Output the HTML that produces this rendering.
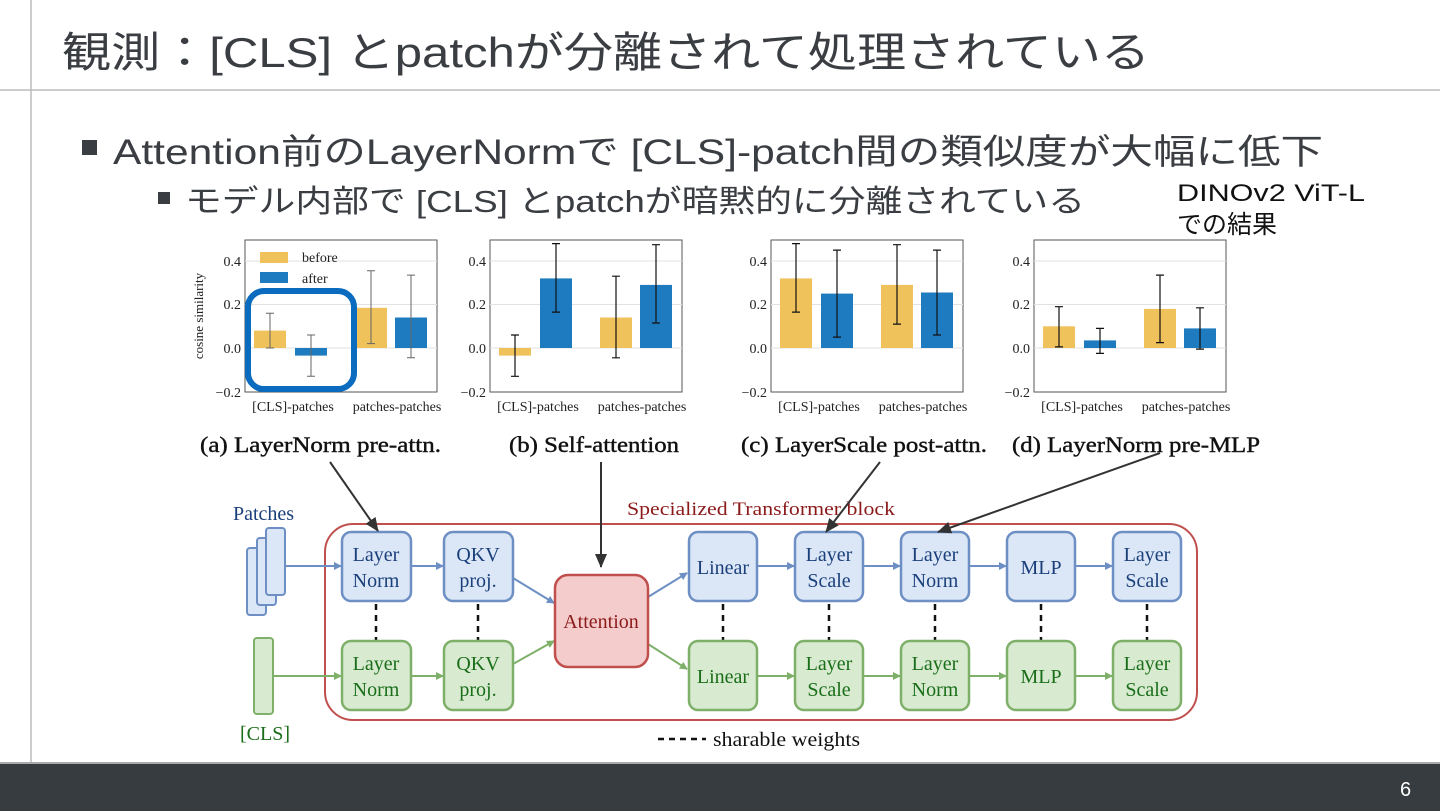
<!DOCTYPE html>
<html><head><meta charset="utf-8"><style>
html,body{margin:0;padding:0;background:#fff;}
svg{display:block;}
.jp{font-family:"Liberation Sans","Noto Sans CJK JP",sans-serif;fill:#3a3d42;}
.sf{font-family:"Liberation Serif","DejaVu Serif",serif;}
</style></head><body>
<svg width="1440" height="811" viewBox="0 0 1440 811" xmlns="http://www.w3.org/2000/svg">
<defs>
<marker id="ab" markerWidth="8" markerHeight="8" refX="7" refY="4" orient="auto" markerUnits="userSpaceOnUse"><path d="M0,0 L8,4 L0,8 z" fill="#6d8fc4"/></marker>
<marker id="ag" markerWidth="8" markerHeight="8" refX="7" refY="4" orient="auto" markerUnits="userSpaceOnUse"><path d="M0,0 L8,4 L0,8 z" fill="#7fb06a"/></marker>
<marker id="ak" markerWidth="14" markerHeight="14" refX="13" refY="7" orient="auto" markerUnits="userSpaceOnUse"><path d="M0,1 L14,7 L0,13 z" fill="#333"/></marker>
</defs>
<rect width="1440" height="811" fill="#fff"/>
<line x1="31" y1="0" x2="31" y2="763" stroke="#bbb" stroke-width="1.5"/>
<line x1="0" y1="90" x2="1440" y2="90" stroke="#bbb" stroke-width="1.5"/>
<rect x="0" y="763" width="1440" height="48" fill="#373c40"/>
<rect x="0" y="762" width="1440" height="2" fill="#aaa"/>
<text x="1400" y="796" font-family="Liberation Sans,sans-serif" font-size="20" fill="#fff">6</text>

<text class="jp" x="62" y="67" font-size="42" textLength="1088" lengthAdjust="spacingAndGlyphs">観測：[CLS] とpatchが分離されて処理されている</text>
<rect x="82" y="140" width="15" height="15" fill="#3a3d42"/>
<text class="jp" x="113" y="164" font-size="35" textLength="1210" lengthAdjust="spacingAndGlyphs">Attention前のLayerNormで [CLS]-patch間の類似度が大幅に低下</text>
<rect x="158" y="192" width="12" height="12" fill="#3a3d42"/>
<text class="jp" x="185" y="212" font-size="31" textLength="900" lengthAdjust="spacingAndGlyphs">モデル内部で [CLS] とpatchが暗黙的に分離されている</text>
<text x="1177" y="201" font-family="Liberation Sans,'Noto Sans CJK JP',sans-serif" font-size="24" fill="#111" textLength="188" lengthAdjust="spacingAndGlyphs">DINOv2 ViT-L</text>
<text x="1177" y="233" font-family="Liberation Sans,'Noto Sans CJK JP',sans-serif" font-size="25" fill="#111">での結果</text>

<g class="sf" font-size="14" fill="#222">
<rect x="245" y="240" width="192" height="152" fill="none" stroke="#555"/>
<line x1="245" y1="261" x2="437" y2="261" stroke="#e2e2e2"/><line x1="245" y1="304.5" x2="437" y2="304.5" stroke="#e2e2e2"/><line x1="245" y1="348" x2="437" y2="348" stroke="#e2e2e2"/>
<text x="241" y="266" text-anchor="end">0.4</text><text x="241" y="309" text-anchor="end">0.2</text><text x="241" y="353" text-anchor="end">0.0</text><text x="241" y="397" text-anchor="end">−0.2</text>
<rect x="254" y="330.6" width="32" height="17.4" fill="#f0c25c"/>
<rect x="295" y="348" width="32" height="7.6" fill="#1f7bbf"/>
<rect x="355" y="307.8" width="32" height="40.2" fill="#f0c25c"/>
<rect x="395" y="317.5" width="32" height="30.5" fill="#1f7bbf"/>
<g stroke="#666" stroke-width="1">
<path d="M270 348V313.2M266 313.2h8M266 348h8"/><path d="M311 376.3V335M307 376.3h8M307 335h8"/><path d="M371 343.6V270.8M367 343.6h8M367 270.8h8"/><path d="M411 357.8V275.1M407 357.8h8M407 275.1h8"/>
</g>
<rect x="260" y="252" width="28" height="11" fill="#f0c25c"/><text x="302" y="262">before</text>
<rect x="260" y="272" width="28" height="11" fill="#1f7bbf"/><text x="302" y="283">after</text>
<text x="0" y="0" transform="translate(203,316) rotate(-90)" text-anchor="middle" font-size="13">cosine similarity</text>
<text x="293" y="411" text-anchor="middle">[CLS]-patches</text><text x="397" y="411" text-anchor="middle">patches-patches</text>
<rect x="248" y="291" width="106" height="98" rx="16" fill="none" stroke="#0b6cbf" stroke-width="6"/>

<g transform="translate(245,0)">
<rect x="245" y="240" width="192" height="152" fill="none" stroke="#555"/>
<line x1="245" y1="261" x2="437" y2="261" stroke="#e2e2e2"/><line x1="245" y1="304.5" x2="437" y2="304.5" stroke="#e2e2e2"/><line x1="245" y1="348" x2="437" y2="348" stroke="#e2e2e2"/>
<text x="241" y="266" text-anchor="end">0.4</text><text x="241" y="309" text-anchor="end">0.2</text><text x="241" y="353" text-anchor="end">0.0</text><text x="241" y="397" text-anchor="end">−0.2</text>
<text x="293" y="411" text-anchor="middle">[CLS]-patches</text><text x="397" y="411" text-anchor="middle">patches-patches</text>
<rect x="254" y="348" width="32" height="7.6" fill="#f0c25c"/>
<rect x="295" y="278.4" width="32" height="69.6" fill="#1f7bbf"/>
<rect x="355" y="317.5" width="32" height="30.5" fill="#f0c25c"/>
<rect x="395" y="284.9" width="32" height="63.1" fill="#1f7bbf"/>
<g stroke="#111" stroke-width="1.2">
<path d="M270 376.3V335M266 376.3h8M266 335h8"/><path d="M311 312.1V243.6M307 312.1h8M307 243.6h8"/><path d="M371 357.8V276.2M367 357.8h8M367 276.2h8"/><path d="M411 323V244.7M407 323h8M407 244.7h8"/>
</g>
</g>

<g transform="translate(526,0)">
<rect x="245" y="240" width="192" height="152" fill="none" stroke="#555"/>
<line x1="245" y1="261" x2="437" y2="261" stroke="#e2e2e2"/><line x1="245" y1="304.5" x2="437" y2="304.5" stroke="#e2e2e2"/><line x1="245" y1="348" x2="437" y2="348" stroke="#e2e2e2"/>
<text x="241" y="266" text-anchor="end">0.4</text><text x="241" y="309" text-anchor="end">0.2</text><text x="241" y="353" text-anchor="end">0.0</text><text x="241" y="397" text-anchor="end">−0.2</text>
<text x="293" y="411" text-anchor="middle">[CLS]-patches</text><text x="397" y="411" text-anchor="middle">patches-patches</text>
<rect x="254" y="278.4" width="32" height="69.6" fill="#f0c25c"/>
<rect x="295" y="293.6" width="32" height="54.4" fill="#1f7bbf"/>
<rect x="355" y="284.9" width="32" height="63.1" fill="#f0c25c"/>
<rect x="395" y="292.5" width="32" height="55.5" fill="#1f7bbf"/>
<g stroke="#111" stroke-width="1.2">
<path d="M270 312.1V243.6M266 312.1h8M266 243.6h8"/><path d="M311 337.1V250.1M307 337.1h8M307 250.1h8"/><path d="M371 324.1V244.7M367 324.1h8M367 244.7h8"/><path d="M411 335V250.1M407 335h8M407 250.1h8"/>
</g>
</g>

<g transform="translate(789,0)">
<rect x="245" y="240" width="192" height="152" fill="none" stroke="#555"/>
<line x1="245" y1="261" x2="437" y2="261" stroke="#e2e2e2"/><line x1="245" y1="304.5" x2="437" y2="304.5" stroke="#e2e2e2"/><line x1="245" y1="348" x2="437" y2="348" stroke="#e2e2e2"/>
<text x="241" y="266" text-anchor="end">0.4</text><text x="241" y="309" text-anchor="end">0.2</text><text x="241" y="353" text-anchor="end">0.0</text><text x="241" y="397" text-anchor="end">−0.2</text>
<text x="293" y="411" text-anchor="middle">[CLS]-patches</text><text x="397" y="411" text-anchor="middle">patches-patches</text>
<rect x="254" y="326.3" width="32" height="21.7" fill="#f0c25c"/>
<rect x="295" y="340.4" width="32" height="7.6" fill="#1f7bbf"/>
<rect x="355" y="308.9" width="32" height="39.1" fill="#f0c25c"/>
<rect x="395" y="328.4" width="32" height="19.6" fill="#1f7bbf"/>
<g stroke="#111" stroke-width="1.2">
<path d="M270 346.9V306.7M266 346.9h8M266 306.7h8"/><path d="M311 353.4V328.4M307 353.4h8M307 328.4h8"/><path d="M371 342.6V275.1M367 342.6h8M367 275.1h8"/><path d="M411 349.1V307.8M407 349.1h8M407 307.8h8"/>
</g>
</g>
</g>

<g class="sf" font-size="22" fill="#111" stroke="#111" stroke-width="0.4">
<text x="200" y="452" textLength="241" lengthAdjust="spacingAndGlyphs">(a) LayerNorm pre-attn.</text>
<text x="509" y="452" textLength="170" lengthAdjust="spacingAndGlyphs">(b) Self-attention</text>
<text x="741" y="452" textLength="246" lengthAdjust="spacingAndGlyphs">(c) LayerScale post-attn.</text>
<text x="1012" y="452" textLength="248" lengthAdjust="spacingAndGlyphs">(d) LayerNorm pre-MLP</text>
</g>

<rect x="325" y="524" width="872" height="196" rx="28" fill="none" stroke="#c0504d" stroke-width="2"/>
<text class="sf" x="627" y="515" font-size="19" fill="#8b1a1a" textLength="268" lengthAdjust="spacingAndGlyphs">Specialized Transformer block</text>
<text class="sf" x="233" y="520" font-size="20" fill="#1a3f7a">Patches</text>
<text class="sf" x="240" y="740" font-size="20" fill="#1a6e1a">[CLS]</text>
<g fill="#dbe7f7" stroke="#6d8fc4" stroke-width="2">
<rect x="247" y="548" width="19" height="67" rx="3"/><rect x="257" y="538" width="19" height="67" rx="3"/><rect x="266" y="528" width="19" height="67" rx="3"/>
</g>
<rect x="254" y="638" width="19" height="76" rx="3" fill="#d8ead0" stroke="#7fb06a" stroke-width="2"/>

<g stroke="#6d8fc4" stroke-width="2" fill="none" marker-end="url(#ab)">
<line x1="286" y1="566" x2="341" y2="566"/><line x1="412" y1="566" x2="443" y2="566"/>
<line x1="513" y1="578" x2="554" y2="603"/><line x1="648" y1="597" x2="687" y2="573"/>
<line x1="758" y1="566" x2="794" y2="566"/><line x1="864" y1="566" x2="900" y2="566"/><line x1="970" y1="566" x2="1006" y2="566"/><line x1="1076" y1="566" x2="1112" y2="566"/>
</g>
<g stroke="#7fb06a" stroke-width="2" fill="none" marker-end="url(#ag)">
<line x1="274" y1="676" x2="341" y2="676"/><line x1="412" y1="676" x2="443" y2="676"/>
<line x1="513" y1="664" x2="554" y2="641"/><line x1="648" y1="644" x2="687" y2="669"/>
<line x1="758" y1="676" x2="794" y2="676"/><line x1="864" y1="676" x2="900" y2="676"/><line x1="970" y1="676" x2="1006" y2="676"/><line x1="1076" y1="676" x2="1112" y2="676"/>
</g>
<g stroke="#111" stroke-width="2.5" stroke-dasharray="6,5">
<line x1="376" y1="604" x2="376" y2="640"/><line x1="478" y1="604" x2="478" y2="640"/><line x1="723" y1="604" x2="723" y2="640"/><line x1="829" y1="604" x2="829" y2="640"/><line x1="935" y1="604" x2="935" y2="640"/><line x1="1041" y1="604" x2="1041" y2="640"/><line x1="1147" y1="604" x2="1147" y2="640"/>
<line x1="658" y1="739" x2="706" y2="739"/>
</g>
<text class="sf" x="713" y="746" font-size="20" fill="#111" textLength="147" lengthAdjust="spacingAndGlyphs">sharable weights</text>

<g fill="#dbe7f7" stroke="#6d8fc4" stroke-width="2.5">
<rect x="342" y="532" width="69" height="69" rx="9"/><rect x="444" y="532" width="69" height="69" rx="9"/><rect x="689" y="532" width="68" height="69" rx="9"/><rect x="795" y="532" width="68" height="69" rx="9"/><rect x="901" y="532" width="68" height="69" rx="9"/><rect x="1007" y="532" width="68" height="69" rx="9"/><rect x="1113" y="532" width="68" height="69" rx="9"/>
</g>
<g fill="#d8ead0" stroke="#7fb06a" stroke-width="2.5">
<rect x="342" y="641" width="69" height="69" rx="9"/><rect x="444" y="641" width="69" height="69" rx="9"/><rect x="689" y="641" width="68" height="69" rx="9"/><rect x="795" y="641" width="68" height="69" rx="9"/><rect x="901" y="641" width="68" height="69" rx="9"/><rect x="1007" y="641" width="68" height="69" rx="9"/><rect x="1113" y="641" width="68" height="69" rx="9"/>
</g>
<rect x="555" y="575" width="93" height="92" rx="13" fill="#f5cccc" stroke="#c0504d" stroke-width="2.5"/>
<text class="sf" x="601" y="628" font-size="20" fill="#8b1a1a" text-anchor="middle">Attention</text>

<g class="sf" font-size="20" fill="#1a3f7a" text-anchor="middle">
<text x="376" y="561">Layer</text><text x="376" y="587">Norm</text>
<text x="478" y="561">QKV</text><text x="478" y="587">proj.</text>
<text x="723" y="574">Linear</text>
<text x="829" y="561">Layer</text><text x="829" y="587">Scale</text>
<text x="935" y="561">Layer</text><text x="935" y="587">Norm</text>
<text x="1041" y="574">MLP</text>
<text x="1147" y="561">Layer</text><text x="1147" y="587">Scale</text>
</g>
<g class="sf" font-size="20" fill="#1a6e1a" text-anchor="middle">
<text x="376" y="670">Layer</text><text x="376" y="696">Norm</text>
<text x="478" y="670">QKV</text><text x="478" y="696">proj.</text>
<text x="723" y="683">Linear</text>
<text x="829" y="670">Layer</text><text x="829" y="696">Scale</text>
<text x="935" y="670">Layer</text><text x="935" y="696">Norm</text>
<text x="1041" y="683">MLP</text>
<text x="1147" y="670">Layer</text><text x="1147" y="696">Scale</text>
</g>

<g stroke="#333" stroke-width="2" marker-end="url(#ak)">
<line x1="330" y1="462" x2="378" y2="531"/>
<line x1="601" y1="462" x2="601" y2="567"/>
<line x1="880" y1="462" x2="826" y2="532"/>
<line x1="1160" y1="453" x2="938" y2="532"/>
</g>
</svg>
</body></html>
